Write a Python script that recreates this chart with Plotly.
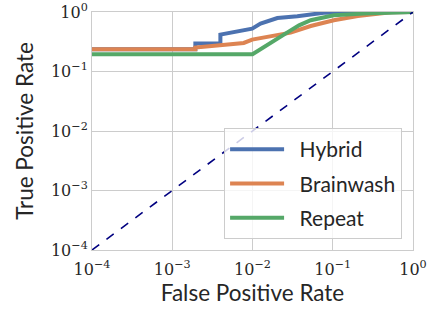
import plotly.graph_objects as go

# Hybrid curve (FPR, TPR)
hybrid_fpr = [1e-4, 0.00194, 0.00194, 0.00398, 0.00398, 0.00778, 0.0099, 0.0126, 0.0204, 0.0362, 0.0772, 0.205, 1.0]
hybrid_tpr = [0.236, 0.236, 0.295, 0.295, 0.417, 0.492, 0.526, 0.638, 0.793, 0.847, 0.97, 0.99, 1.0]

# Brainwash curve
brain_fpr = [1e-4, 0.00194, 0.00194, 0.00778, 0.0099, 0.0224, 0.0299, 0.0531, 0.103, 0.205, 0.365, 0.53, 1.0]
brain_tpr = [0.236, 0.236, 0.252, 0.302, 0.344, 0.417, 0.45, 0.582, 0.726, 0.857, 0.95, 0.99, 1.0]

# Repeat curve
repeat_fpr = [1e-4, 0.01, 0.0299, 0.038, 0.0531, 0.103, 0.244, 0.53, 1.0]
repeat_tpr = [0.195, 0.195, 0.492, 0.598, 0.726, 0.88, 0.94, 0.99, 1.0]

# Chance diagonal
diag = [1e-4, 1.0]

series_names = ["Hybrid", "Brainwash", "Repeat"]

tick_vals = [1e-4, 1e-3, 1e-2, 1e-1, 1.0]
tick_text = ["10<sup>−4</sup>", "10<sup>−3</sup>", "10<sup>−2</sup>", "10<sup>−1</sup>", "10<sup>0</sup>"]

fig = go.Figure()
fig.add_trace(go.Scatter(x=hybrid_fpr, y=hybrid_tpr, mode="lines", name="\u2002" + series_names[0],
                         legendgroup="a", line=dict(color="#4c72b0", width=4)))
fig.add_trace(go.Scatter(x=brain_fpr, y=brain_tpr, mode="lines", name="\u2002" + series_names[1],
                         legendgroup="b", line=dict(color="#dd8452", width=4)))
fig.add_trace(go.Scatter(x=repeat_fpr, y=repeat_tpr, mode="lines", name="\u2002" + series_names[2],
                         legendgroup="c", line=dict(color="#55a868", width=4)))
fig.add_trace(go.Scatter(x=diag, y=diag, mode="lines", showlegend=False,
                         line=dict(color="#000080", width=1.6, dash="dash")))

axis_common = dict(
    type="log", range=[-4, 0], tickvals=tick_vals, ticktext=tick_text,
    showgrid=True, gridcolor="#cccccc", gridwidth=1,
    showline=True, linecolor="#cccccc", linewidth=1, mirror=True,
    ticks="", zeroline=False, automargin=False,
    tickfont=dict(family="DejaVu Serif", size=16, color="#262626"),
    title_font=dict(family="Lato", size=22.5, color="#262626"),
)

fig.update_layout(
    width=433, height=309,
    margin=dict(l=92, r=20, t=12, b=59),
    paper_bgcolor="white", plot_bgcolor="white",
    xaxis=dict(axis_common, ticklabelstandoff=5, title=dict(text="False Positive Rate", standoff=0)),
    yaxis=dict(axis_common, title=dict(text="True Positive Rate", standoff=11)),
    legend=dict(
        x=0.966, y=0.046, xanchor="right", yanchor="bottom",
        bgcolor="rgba(255,255,255,0.8)", bordercolor="#cccccc", borderwidth=1,
        font=dict(family="Lato", size=21, color="#262626"),
        itemwidth=54, tracegroupgap=4,
    ),
    showlegend=True,
)

fig.write_html("out.html", config={"displayModeBar": False},
               post_script="document.body.style.margin='0';")
